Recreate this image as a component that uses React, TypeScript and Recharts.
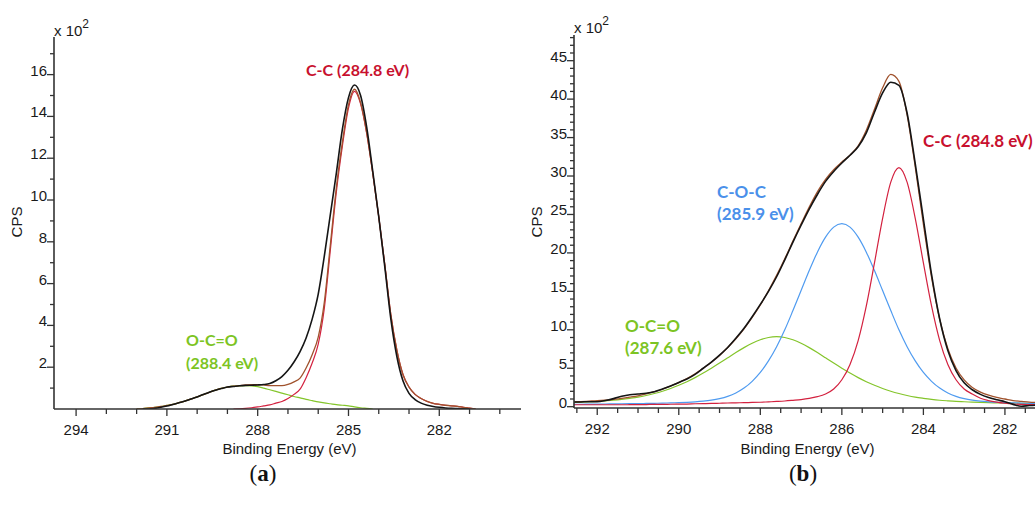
import React from 'react';
import { LineChart, Line, XAxis, YAxis } from 'recharts';

// ---------- Panel (a): C 1s spectrum, 0.2 eV steps ----------
const energyA = [
  292.0, 291.8, 291.6, 291.4, 291.2, 291.0, 290.8, 290.6, 290.4, 290.2,
  290.0, 289.8, 289.6, 289.4, 289.2, 289.0, 288.8, 288.6, 288.4, 288.2,
  288.0, 287.8, 287.6, 287.4, 287.2, 287.0, 286.8, 286.6, 286.4, 286.2,
  286.0, 285.8, 285.6, 285.4, 285.2, 285.0, 284.8, 284.6, 284.4, 284.2,
  284.0, 283.8, 283.6, 283.4, 283.2, 283.0, 282.8, 282.6, 282.4, 282.2,
  282.0, 281.8, 281.6, 281.4, 281.2, 281.0, 280.8,
];
// O-C=O component
const greenA = [
  0.0, 0.02, 0.05, 0.08, 0.12, 0.17, 0.22, 0.3, 0.38, 0.48,
  0.58, 0.69, 0.8, 0.9, 0.99, 1.05, 1.09, 1.11, 1.12, 1.11,
  1.07, 1.0, 0.92, 0.84, 0.76, 0.68, 0.6, 0.53, 0.46, 0.4,
  0.34, 0.29, 0.25, 0.21, 0.18, 0.15, 0.1, 0.06, 0.03, 0.0,
  null, null, null, null, null, null, null, null, null, null,
  null, null, null, null, null, null, null,
];
// C-C component
const redA = [
  null, null, null, null, null, null, null, null, null, null,
  null, null, null, null, null, null, 0.0, 0.01, 0.03, 0.06,
  0.1, 0.15, 0.2, 0.28, 0.36, 0.5, 0.7, 0.95, 1.5, 2.2,
  3.1, 4.8, 7.6, 10.4, 12.6, 14.4, 15.2, 14.6, 13.2, 11.3,
  9.2, 6.9, 4.5, 2.8, 1.65, 1.05, 0.7, 0.5, 0.36, 0.27,
  0.22, 0.18, 0.15, 0.13, 0.08, 0.04, 0.0,
];
// fitted envelope
const envelopeA = [
  0.0, 0.02, 0.05, 0.08, 0.12, 0.17, 0.22, 0.3, 0.38, 0.48,
  0.58, 0.69, 0.8, 0.9, 0.99, 1.05, 1.09, 1.12, 1.15, 1.17,
  1.17, 1.15, 1.12, 1.12, 1.12, 1.18, 1.3, 1.48, 1.96, 2.6,
  3.44, 5.09, 7.85, 10.61, 12.78, 14.55, 15.3, 14.66, 13.23, 11.3,
  9.2, 6.9, 4.5, 2.8, 1.65, 1.05, 0.7, 0.5, 0.36, 0.27,
  0.22, 0.18, 0.15, 0.13, 0.08, 0.04, 0.0,
];
// measured counts
const measuredA = [
  null, 0.0, 0.0, 0.03, 0.08, 0.14, 0.22, 0.3, 0.38, 0.48,
  0.58, 0.69, 0.8, 0.9, 0.98, 1.05, 1.08, 1.11, 1.13, 1.14,
  1.15, 1.17, 1.22, 1.35, 1.55, 1.85, 2.25, 2.75, 3.4, 4.3,
  5.5, 7.3, 9.3, 11.3, 13.4, 14.9, 15.5, 15.0, 13.5, 11.4,
  9.2, 6.8, 4.3, 2.5, 1.35, 0.75, 0.45, 0.28, 0.18, 0.12,
  0.08, 0.05, 0.03, 0.02, 0.01, 0.0, null,
];

// ---------- Panel (b): C 1s spectrum, 0.2 eV steps ----------
const energyB = [
  292.6, 292.4, 292.2, 292.0, 291.8, 291.6, 291.4, 291.2, 291.0, 290.8,
  290.6, 290.4, 290.2, 290.0, 289.8, 289.6, 289.4, 289.2, 289.0, 288.8,
  288.6, 288.4, 288.2, 288.0, 287.8, 287.6, 287.4, 287.2, 287.0, 286.8,
  286.6, 286.4, 286.2, 286.0, 285.8, 285.6, 285.4, 285.2, 285.0, 284.8,
  284.6, 284.4, 284.2, 284.0, 283.8, 283.6, 283.4, 283.2, 283.0, 282.8,
  282.6, 282.4, 282.2, 282.0, 281.8, 281.6, 281.4, 281.2, 281.0,
];
const greenB = [
  0.55, 0.59, 0.64, 0.69, 0.76, 0.84, 0.95, 1.09, 1.25, 1.46,
  1.71, 2.01, 2.37, 2.78, 3.25, 3.78, 4.37, 5.01, 5.67, 6.36,
  7.04, 7.68, 8.25, 8.7, 9.0, 9.1, 9.0, 8.7, 8.25, 7.68,
  7.04, 6.36, 5.67, 5.01, 4.37, 3.78, 3.25, 2.78, 2.37, 2.01,
  1.71, 1.46, 1.25, 1.09, 0.95, 0.84, 0.76, 0.69, 0.64, 0.59,
  0.55, 0.52, 0.5, 0.48, 0.46, 0.44, 0.43, 0.42, 0.41,
];
const blueB = [
  0.32, 0.32, 0.33, 0.34, 0.35, 0.37, 0.38, 0.39, 0.4, 0.42,
  0.44, 0.46, 0.5, 0.53, 0.57, 0.63, 0.72, 0.85, 1.05, 1.35,
  1.79, 2.42, 3.3, 4.45, 5.95, 7.8, 10.0, 12.5, 15.1, 17.7,
  20.1, 22.05, 23.35, 23.8, 23.35, 22.05, 20.1, 17.7, 15.1, 12.5,
  10.0, 7.8, 5.95, 4.45, 3.3, 2.42, 1.79, 1.35, 1.05, 0.85,
  0.72, 0.63, 0.57, 0.53, 0.5, 0.46, 0.44, 0.42, 0.4,
];
const redB = [
  0.25, 0.25, 0.25, 0.25, 0.25, 0.25, 0.25, 0.26, 0.27, 0.28,
  0.3, 0.3, 0.32, 0.33, 0.34, 0.38, 0.4, 0.42, 0.45, 0.48,
  0.5, 0.53, 0.55, 0.58, 0.63, 0.68, 0.74, 0.83, 0.93, 1.08,
  1.3, 1.65, 2.3, 3.5, 5.5, 8.6, 13.1, 18.7, 24.5, 29.2,
  31.1, 29.2, 24.5, 18.7, 13.1, 8.6, 5.5, 3.5, 2.3, 1.65,
  1.1, 0.8, 0.6, 0.45, 0.35, 0.3, 0.28, 0.26, 0.25,
];
const envelopeB = [
  0.62, 0.66, 0.72, 0.78, 0.86, 0.96, 1.08, 1.24, 1.42, 1.66,
  1.95, 2.27, 2.69, 3.14, 3.66, 4.29, 4.99, 5.78, 6.67, 7.69,
  8.83, 10.13, 11.6, 13.23, 15.08, 17.08, 19.24, 21.53, 23.78, 25.96,
  27.94, 29.56, 30.82, 31.81, 32.72, 33.93, 35.95, 38.68, 41.47, 43.21,
  42.31, 37.96, 31.2, 23.74, 16.85, 11.36, 7.55, 5.04, 3.49, 2.5,
  1.9, 1.5, 1.2, 1.0, 0.8, 0.7, 0.6, 0.55, 0.5,
];
const measuredB = [
  0.6, 0.62, 0.65, 0.65, 0.8, 1.05, 1.35, 1.55, 1.65, 1.75,
  1.95, 2.3, 2.7, 3.15, 3.6, 4.2, 5.0, 5.8, 6.7, 7.7,
  8.9, 10.2, 11.7, 13.3, 15.0, 16.9, 19.1, 21.4, 23.6, 25.7,
  27.6, 29.3, 30.6, 31.7, 32.7, 33.8, 35.6, 38.3, 40.8, 42.2,
  41.8, 38.2, 31.6, 24.4, 17.2, 11.4, 7.3, 4.7, 3.1, 2.2,
  1.6, 1.2, 0.9, 0.65, 0.3, 0.05, 0.15, 0.2, 0.2,
];

// ---------- axis ticks ----------
const xTicksA = [294, 293, 292, 291, 290, 289, 288, 287, 286, 285, 284, 283, 282, 281, 280];
const xLabelsA = [294, 291, 288, 285, 282];
const yTicksA = [1, 2, 3, 4, 5, 6, 7, 8, 9, 10, 11, 12, 13, 14, 15, 16, 17];
const yLabelsA = [2, 4, 6, 8, 10, 12, 14, 16];

const xTicksB = [
  292.5, 292, 291.5, 291, 290.5, 290, 289.5, 289, 288.5, 288, 287.5, 287,
  286.5, 286, 285.5, 285, 284.5, 284, 283.5, 283, 282.5, 282, 281.5,
];
const xLabelsB = [292, 290, 288, 286, 284, 282];
const yTicksB = [
  0, 1, 2, 3, 4, 5, 6, 7, 8, 9, 10, 11, 12, 13, 14, 15, 16, 17, 18, 19, 20, 21, 22, 23, 24,
  25, 26, 27, 28, 29, 30, 31, 32, 33, 34, 35, 36, 37, 38, 39, 40, 41, 42, 43, 44, 45, 46, 47, 48,
];
const yLabelsB = [0, 5, 10, 15, 20, 25, 30, 35, 40, 45];

// ---------- styling ----------
const SANS = '"Liberation Sans", Arial, sans-serif';
const TAG = 'Lato, "Open Sans", sans-serif';
const AXIS = '#333333';
const C_BLACK = '#151515';
const C_BROWN = '#a0522d';
const C_RED = '#d3213f';
const C_GREEN = '#84c52b';
const C_BLUE = '#4f9bf0';
const T_RED = '#c8102e';
const T_GREEN = '#7cc423';
const T_BLUE = '#4a90ea';

function toRows(energy: number[], series: Record<string, (number | null)[]>) {
  return energy.map((e, i) => {
    const row: Record<string, number | null> = { e };
    Object.keys(series).forEach((k) => {
      row[k] = series[k][i];
    });
    return row;
  });
}

const rowsA = toRows(energyA, { green: greenA, red: redA, env: envelopeA, meas: measuredA });
const rowsB = toRows(energyB, { green: greenB, blue: blueB, red: redB, env: envelopeB, meas: measuredB });

const xTick = (labels: number[]) => (p: any) => {
  const v = p.payload.value;
  const major = labels.includes(v);
  return (
    <g>
      <line x1={p.x} x2={p.x} y1={p.y} y2={p.y + (major ? 7 : 5)} stroke={AXIS} strokeWidth={1.3} />
      {major && (
        <text x={p.x} y={p.y + 26} textAnchor="middle" fontFamily={SANS} fontSize={15} fill="#1a1a1a">
          {v}
        </text>
      )}
    </g>
  );
};

const yTick = (labels: number[]) => (p: any) => {
  const v = p.payload.value;
  const major = labels.includes(v);
  return (
    <g>
      <line x1={p.x - (major ? 7 : 4)} x2={p.x} y1={p.y} y2={p.y} stroke={AXIS} strokeWidth={1.3} />
      {major && (
        <text x={p.x - 7} y={p.y + 1} textAnchor="end" fontFamily={SANS} fontSize={15} fill="#1a1a1a">
          {v}
        </text>
      )}
    </g>
  );
};

const axisLine = { stroke: AXIS, strokeWidth: 1.6 };

export default function App() {
  return (
    <div
      style={{
        position: 'absolute',
        left: 0,
        top: 0,
        width: 1035,
        height: 507,
        overflow: 'hidden',
        background: '#ffffff',
      }}
    >
      {/* panel (a) */}
      <div style={{ position: 'absolute', left: 0, top: 0 }}>
        <LineChart width={540} height={507} data={rowsA} margin={{ top: 37, right: 19, bottom: 68, left: 14 }}>
          <XAxis
            dataKey="e"
            type="number"
            domain={[279.3, 294.73]}
            reversed
            allowDataOverflow
            ticks={xTicksA}
            interval={0}
            tickSize={0}
            tickMargin={0}
            tickLine={false}
            tick={xTick(xLabelsA)}
            axisLine={axisLine}
            height={30}
          />
          <XAxis
            xAxisId="top"
            orientation="top"
            dataKey="e"
            type="number"
            domain={[279.3, 294.73]}
            reversed
            allowDataOverflow
            tick={false}
            tickLine={false}
            axisLine={axisLine}
            height={0}
          />
          <YAxis
            type="number"
            domain={[0, 17.8]}
            allowDataOverflow
            ticks={yTicksA}
            interval={0}
            tickSize={0}
            tickMargin={0}
            tickLine={false}
            tick={yTick(yLabelsA)}
            axisLine={axisLine}
            width={40}
          />
          <YAxis
            yAxisId="right"
            orientation="right"
            type="number"
            domain={[0, 17.8]}
            tick={false}
            tickLine={false}
            axisLine={axisLine}
            width={0}
          />
          <Line dataKey="green" type="monotone" stroke={C_GREEN} strokeWidth={1.2} dot={false} isAnimationActive={false} />
          <Line dataKey="red" type="monotone" stroke={C_RED} strokeWidth={1.2} dot={false} isAnimationActive={false} />
          <Line dataKey="env" type="monotone" stroke={C_BROWN} strokeWidth={1.3} dot={false} isAnimationActive={false} />
          <Line dataKey="meas" type="monotone" stroke={C_BLACK} strokeWidth={1.6} dot={false} isAnimationActive={false} />
        </LineChart>
      </div>

      {/* panel (b) */}
      <div style={{ position: 'absolute', left: 520, top: 0 }}>
        <LineChart width={540} height={507} data={rowsB} margin={{ top: 35, right: 14.3, bottom: 69, left: 14 }}>
          <XAxis
            dataKey="e"
            type="number"
            domain={[281.0, 292.57]}
            reversed
            allowDataOverflow
            ticks={xTicksB}
            interval={0}
            tickSize={0}
            tickMargin={0}
            tickLine={false}
            tick={xTick(xLabelsB)}
            axisLine={axisLine}
            height={30}
          />
          <XAxis
            xAxisId="top"
            orientation="top"
            dataKey="e"
            type="number"
            domain={[281.0, 292.57]}
            reversed
            allowDataOverflow
            tick={false}
            tickLine={false}
            axisLine={axisLine}
            height={0}
          />
          <YAxis
            type="number"
            domain={[-0.17, 48.34]}
            allowDataOverflow
            ticks={yTicksB}
            interval={0}
            tickSize={0}
            tickMargin={0}
            tickLine={false}
            tick={yTick(yLabelsB)}
            axisLine={axisLine}
            width={40}
          />
          <Line dataKey="green" type="monotone" stroke={C_GREEN} strokeWidth={1.2} dot={false} isAnimationActive={false} />
          <Line dataKey="blue" type="monotone" stroke={C_BLUE} strokeWidth={1.2} dot={false} isAnimationActive={false} />
          <Line dataKey="red" type="monotone" stroke={C_RED} strokeWidth={1.2} dot={false} isAnimationActive={false} />
          <Line dataKey="env" type="monotone" stroke={C_BROWN} strokeWidth={1.3} dot={false} isAnimationActive={false} />
          <Line dataKey="meas" type="monotone" stroke={C_BLACK} strokeWidth={1.6} dot={false} isAnimationActive={false} />
        </LineChart>
      </div>

      {/* titles, multipliers and peak tags */}
      <svg width={1035} height={507} style={{ position: 'absolute', left: 0, top: 0, pointerEvents: 'none' }}>
        <g fontFamily={SANS} fill="#1a1a1a" fontSize={15}>
          <text x={54} y={36}>
            x 10<tspan dy={-8} fontSize={12}>2</tspan>
          </text>
          <text x={574} y={33}>
            x 10<tspan dy={-8} fontSize={12}>2</tspan>
          </text>
          <text x={0} y={0} transform="translate(22,222) rotate(-90)" textAnchor="middle">CPS</text>
          <text x={0} y={0} transform="translate(542,222) rotate(-90)" textAnchor="middle">CPS</text>
          <text x={289.5} y={454} textAnchor="middle">Binding Energy (eV)</text>
          <text x={807.5} y={454} textAnchor="middle">Binding Energy (eV)</text>
        </g>
        <g fontFamily={TAG} fontWeight={700}>
          <text x={306} y={76} fontSize={16} fill={T_RED}>C-C (284.8 eV)</text>
          <text x={186} y={346} fontSize={16} fill={T_GREEN}>O-C=O</text>
          <text x={186} y={369} fontSize={16} fill={T_GREEN}>(288.4 eV)</text>
          <text x={923} y={147} fontSize={17} fill={T_RED}>C-C (284.8 eV)</text>
          <text x={717} y={198} fontSize={17} fill={T_BLUE}>C-O-C</text>
          <text x={717} y={220} fontSize={17} fill={T_BLUE}>(285.9 eV)</text>
          <text x={625} y={332} fontSize={17} fill={T_GREEN}>O-C=O</text>
          <text x={625} y={354} fontSize={17} fill={T_GREEN}>(287.6 eV)</text>
        </g>
        <g fontFamily='"Liberation Serif", "DejaVu Serif", serif' fill="#111" fontSize={23}>
          <text x={263} y={481} textAnchor="middle">
            (<tspan fontWeight={700}>a</tspan>)
          </text>
          <text x={803} y={481} textAnchor="middle">
            (<tspan fontWeight={700}>b</tspan>)
          </text>
        </g>
      </svg>
    </div>
  );
}
